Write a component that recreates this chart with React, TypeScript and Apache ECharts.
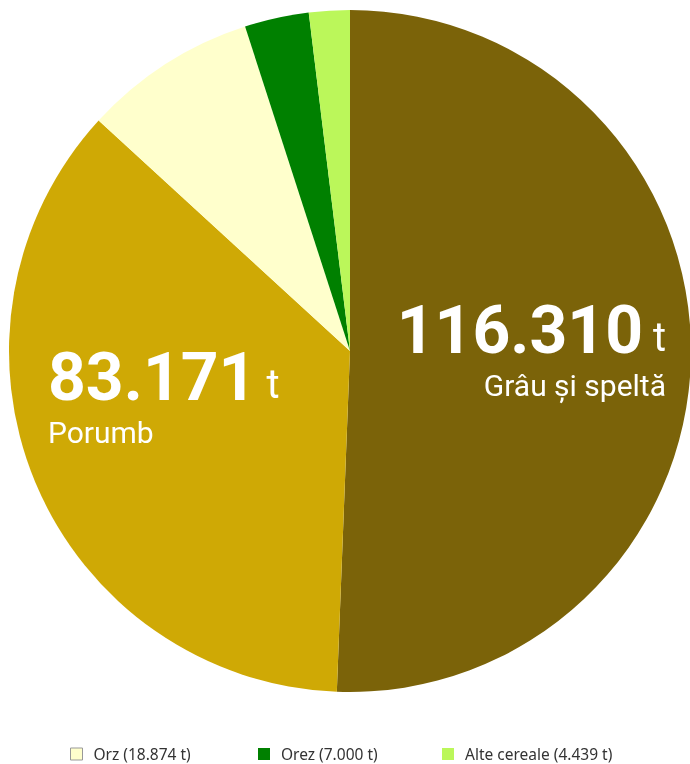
import React, { useEffect, useRef } from "react";
import * as echarts from "echarts";

const categories = ["Grâu și speltă", "Porumb", "Orz", "Orez", "Alte cereale"];
const values = [116310, 83171, 18874, 7000, 4439];
const colors = ["#7b6309", "#cfa905", "#ffffcc", "#008000", "#bbf75a"];
const legendItems = ["Orz", "Orez", "Alte cereale"];
const legendLeft = [70, 258, 442];
const bigLabels = ["Grâu și speltă", "Porumb"];

const fmt = (v: number) => v.toLocaleString("de-DE");

export default function App() {
  const ref = useRef<HTMLDivElement>(null);
  useEffect(() => {
    const chart = echarts.init(ref.current!, null, { renderer: "svg" });
    const font = "Roboto, 'Noto Sans', sans-serif";
    const legendFont = "'Noto Sans', Roboto, sans-serif";
    chart.setOption({
      animation: false,
      textStyle: { fontFamily: font },
      legend: legendItems.map((name, k) => ({
        data: [
          {
            name,
            itemStyle:
              name === "Orz"
                ? { borderColor: "#999", borderWidth: 1 }
                : { borderWidth: 0 },
          },
        ],
        top: 745,
        left: legendLeft[k],
        padding: 0,
        itemWidth: 12,
        itemHeight: 12,
        icon: "rect",
        textStyle: {
          fontSize: 15.5,
          lineHeight: 18,
          color: "#333",
          fontFamily: legendFont,
          padding: [0, 0, 0, 6],
        },
        formatter: (n: string) => {
          const i = categories.indexOf(n);
          return `${n} (${fmt(values[i])} t)`;
        },
      })),
      series: [
        {
          type: "pie",
          center: [350, 351],
          radius: 341,
          startAngle: 90,
          clockwise: true,
          silent: true,
          data: categories.map((c, i) => ({
            name: c,
            value: values[i],
            itemStyle: { color: colors[i], borderWidth: 0 },
            label: { show: bigLabels.includes(c) },
          })),
          labelLine: { show: false },
          label: {
            position: "inside",
            formatter: (p: any) => `{v|${fmt(p.value)}}{u| t}\n{n|${p.name}}`,
            rich: {
              v: { fontSize: 66, fontWeight: "bold", color: "#fff", fontFamily: font, lineHeight: 72, verticalAlign: "bottom" },
              u: { fontSize: 40, color: "#fff", fontFamily: font, lineHeight: 72, verticalAlign: "bottom", padding: [0, 0, 6, 0] },
              n: { fontSize: 30, color: "#fff", fontFamily: font, lineHeight: 44 },
            },
          },
          labelLayout: (params: any) => {
            if (params.dataIndex === 0) {
              return { x: 666, y: 291, align: "right", verticalAlign: "top" };
            }
            if (params.dataIndex === 1) {
              return { x: 48, y: 338, align: "left", verticalAlign: "top" };
            }
            return {};
          },
        },
      ],
    });
    return () => chart.dispose();
  }, []);
  return (
    <div
      ref={ref}
      style={{ position: "fixed", left: 0, top: 0, width: 690, height: 764 }}
    />
  );
}
